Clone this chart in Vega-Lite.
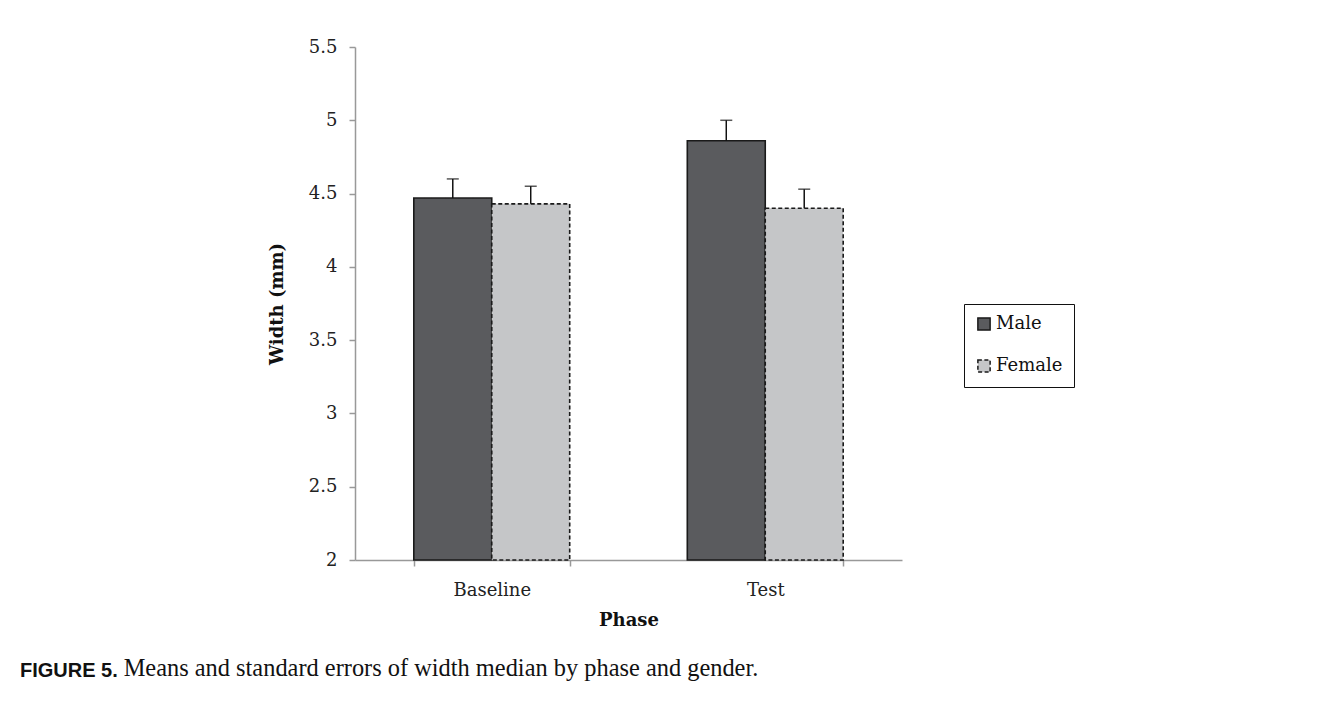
{
  "$schema": "https://vega.github.io/schema/vega-lite/v6.json",
  "width": 547,
  "height": 513,
  "autosize": "none",
  "padding": {"left": 355, "top": 47, "right": 426, "bottom": 147},
  "background": "white",
  "config": {
    "view": {"stroke": null},
    "font": "DejaVu Serif"
  },
  "title": {
    "text": "FIGURE 5.",
    "subtitle": "\u200b\u00a0\u00a0\u00a0\u00a0\u00a0\u00a0\u00a0\u00a0\u00a0\u00a0\u00a0\u00a0\u00a0\u00a0\u00a0\u00a0\u00a0Means and standard errors of width median by phase and gender.",
    "orient": "bottom",
    "anchor": "start",
    "frame": "group",
    "dx": -335,
    "offset": 32,
    "font": "Liberation Sans",
    "fontWeight": "bold",
    "fontSize": 20,
    "color": "#111",
    "subtitleFont": "Liberation Serif",
    "subtitleFontSize": 24.4,
    "subtitleColor": "#111",
    "subtitlePadding": -24
  },
  "data": {
    "values": [
      {"phase": "Baseline", "gender": "Male", "mean": 4.47, "upper": 4.60},
      {"phase": "Baseline", "gender": "Female", "mean": 4.43, "upper": 4.55},
      {"phase": "Test", "gender": "Male", "mean": 4.86, "upper": 5.00},
      {"phase": "Test", "gender": "Female", "mean": 4.40, "upper": 4.53}
    ]
  },
  "encoding": {
    "x": {
      "field": "phase",
      "type": "nominal",
      "sort": ["Baseline", "Test"],
      "scale": {"paddingInner": 0.43, "paddingOuter": 0.215},
      "axis": {
        "title": "Phase",
        "titleFont": "DejaVu Serif",
        "titleFontSize": 18,
        "titleFontWeight": "bold",
        "titleColor": "#111",
        "titlePadding": 12,
        "labelAngle": 0,
        "labelFont": "DejaVu Serif",
        "labelFontSize": 18,
        "labelColor": "#222",
        "labelPadding": 15,
        "tickBand": "extent",
        "tickSize": 6,
        "tickColor": "#999",
        "tickWidth": 1.5,
        "domainColor": "#999",
        "domainWidth": 1.5
      }
    },
    "xOffset": {"field": "gender", "type": "nominal", "sort": ["Male", "Female"], "scale": {"paddingInner": 0, "paddingOuter": 0}}
  },
  "layer": [
    {
      "mark": {"type": "bar", "stroke": "#1a1a1a", "strokeWidth": 1.6},
      "encoding": {
        "y": {
          "field": "mean",
          "type": "quantitative",
          "scale": {"domain": [2, 5.5], "zero": false, "nice": false},
          "axis": {
            "title": "Width (mm)",
            "titleFont": "DejaVu Serif",
            "titleFontSize": 18,
            "titleFontWeight": "bold",
            "titleColor": "#111",
            "titlePadding": 22,
            "values": [2, 2.5, 3, 3.5, 4, 4.5, 5, 5.5],
            "format": "~g",
            "labelFont": "DejaVu Serif",
            "labelFontSize": 18,
            "labelColor": "#222",
            "labelPadding": 12,
            "labelFlush": false,
            "grid": false,
            "tickSize": 6,
            "tickColor": "#999",
            "tickWidth": 1.5,
            "domainColor": "#999",
            "domainWidth": 1.5
          }
        },
        "y2": {"datum": 2},
        "color": {
          "field": "gender",
          "type": "nominal",
          "sort": ["Male", "Female"],
          "scale": {"domain": ["Male", "Female"], "range": ["#5a5b5e", "#c5c6c8"]},
          "legend": {
            "title": null,
            "orient": "none",
            "legendX": 609,
            "legendY": 257,
            "strokeColor": "#111",
            "padding": 11,
            "symbolType": "square",
            "symbolSize": 150,
            "labelFont": "DejaVu Serif",
            "labelFontSize": 18,
            "labelColor": "#111",
            "labelOffset": 3,
            "rowPadding": 22,
            "fillColor": "white",
            "encoding": {"symbols": {"update": {"stroke": {"value": "#222"}, "strokeWidth": {"value": 1.5}}}}
          }
        },
        "strokeDash": {
          "field": "gender",
          "type": "nominal",
          "sort": ["Male", "Female"],
          "scale": {"domain": ["Male", "Female"], "range": [[1, 0], [4, 2.5]]},
          "legend": {
            "title": null,
            "orient": "none",
            "legendX": 609,
            "legendY": 257,
            "strokeColor": "#111",
            "padding": 11,
            "symbolType": "square",
            "symbolSize": 150,
            "labelFont": "DejaVu Serif",
            "labelFontSize": 18,
            "labelColor": "#111",
            "labelOffset": 3,
            "rowPadding": 22,
            "fillColor": "white",
            "encoding": {"symbols": {"update": {"stroke": {"value": "#222"}, "strokeWidth": {"value": 1.5}}}}
          }
        }
      }
    },
    {
      "mark": {"type": "rule", "color": "#111", "strokeWidth": 1.5},
      "encoding": {
        "y": {"field": "mean", "type": "quantitative"},
        "y2": {"field": "upper"}
      }
    },
    {
      "mark": {"type": "tick", "orient": "horizontal", "color": "#111", "size": 12, "thickness": 1.5},
      "encoding": {
        "y": {"field": "upper", "type": "quantitative"}
      }
    }
  ]
}
